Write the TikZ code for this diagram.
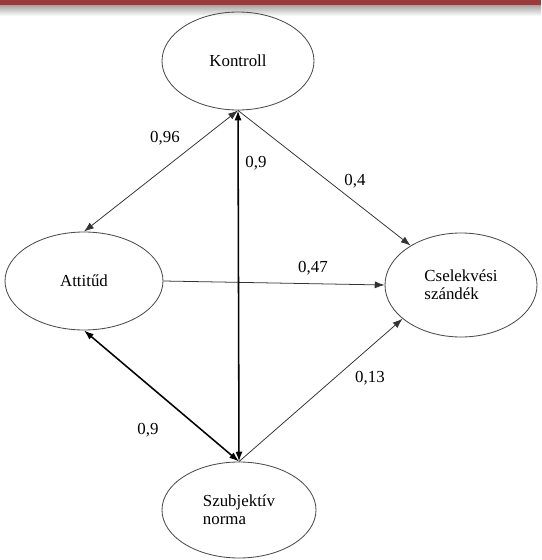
\documentclass[tikz,border=0pt]{standalone}
\usepackage{fontspec}
\setmainfont{Liberation Serif}
\usetikzlibrary{shapes.geometric,arrows.meta}
\definecolor{slidered}{RGB}{155,58,58}
\tikzstyle{construct}=[ellipse,draw=black!70,line width=0.6pt,inner sep=0pt,font=\rmfamily\fontsize{12}{13}\selectfont]
\tikzstyle{weight}=[inner sep=1pt,font=\rmfamily\fontsize{12}{13}\selectfont]
\tikzstyle{path}=[draw=black!80,line width=0.55pt]
\tikzstyle{strong}=[draw=black,line width=1.1pt]

\begin{document}
\begin{tikzpicture}[>={Latex[length=7pt,width=5pt]}]
        \useasboundingbox (0,0) rectangle (13.525,-14);
        % slide header
        \fill[slidered] (0,0) rectangle (13.525,-0.13);
        \shade[top color=black!35,bottom color=white] (0,-0.13) rectangle (13.525,-0.4);

        \node[construct,minimum width=3.8cm,minimum height=2.45cm] (kontroll) at (5.95,-1.525) {Kontroll};
        \node[construct,minimum width=3.95cm,minimum height=2.45cm] (attitud) at (2.1,-7.025) {Attitűd};
        \node[construct,minimum width=3.8cm,minimum height=2.6cm,align=left] (csel) at (11.525,-7.125) {Cselekvési\\szándék};
        \node[construct,minimum width=3.85cm,minimum height=2.4cm,align=left] (szubj) at (5.975,-12.75) {Szubjektív\\norma};

        \node[weight] (w1) at (4.125,-3.45) {0,96};
        \node[weight] (w2) at (6.4,-4.075) {0,9};
        \node[weight] (w3) at (8.875,-4.525) {0,4};
        \node[weight] (w4) at (7.825,-6.7) {0,47};
        \node[weight] (w5) at (9.25,-9.45) {0,13};
        \node[weight] (w6) at (3.7,-10.75) {0,9};

        \draw [path,<->] (kontroll.south) -- (attitud.north);
        \draw [path,->] (kontroll.south) -- (csel);
        \draw [path,->] (attitud.east) -- (csel.west);
        \draw [path,->] (szubj.north) -- (csel.210);
        \draw [strong,<->] (kontroll.south) -- (szubj.north);
        \draw [strong,<->] (attitud.south) -- (szubj.north);
    \end{tikzpicture}
\end{document}
